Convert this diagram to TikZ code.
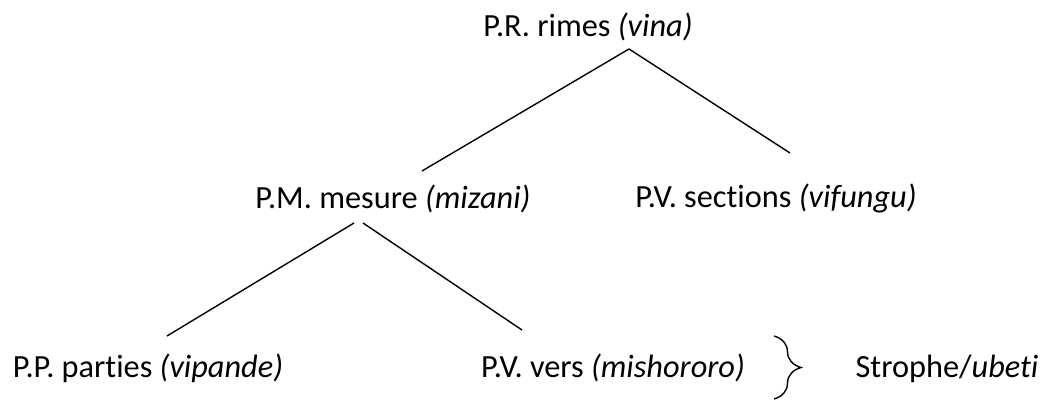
\documentclass[tikz,border=0pt]{standalone}
\usepackage{fontspec}
\setmainfont[Ligatures=NoCommon]{Carlito}
\usetikzlibrary{decorations.pathreplacing}
\tikzstyle{label} = [inner sep=0pt, anchor=base, font=\fontsize{18.4}{22}\selectfont]
\tikzstyle{branch} = [line width=0.8pt, black]

\begin{document}
\begin{tikzpicture}[x=0.02cm, y=-0.02cm]
    \useasboundingbox (0,0) rectangle (1045,401);
    \node (rimes) [label] at (588,37) {P.R. rimes \textit{(vina)}};
    \node (mesure) [label] at (393,209) {P.M. mesure \textit{(mizani)}};
    \node (sections) [label] at (776,208) {P.V. sections \textit{(vifungu)}};
    \node (parties) [label] at (148,378) {P.P. parties \textit{(vipande)}};
    \node (vers) [label] at (613,378) {P.V. vers \textit{(mishororo)}};
    \node (strophe) [label] at (947,378) {Strophe/\textit{ubeti}};

    % end points of the branches
    \coordinate (apexA) at (629,49);
    \coordinate (mesureA) at (422,171);
    \coordinate (sectionsA) at (790,153);
    \coordinate (apexBl) at (354,223);
    \coordinate (apexBr) at (363,223);
    \coordinate (partiesA) at (167,336);
    \coordinate (versA) at (522,330);
    \coordinate (braceTop) at (774,336);
    \coordinate (braceBot) at (774,399);

    \draw [branch] (apexA) -- (mesureA);
    \draw [branch] (apexA) -- (sectionsA);
    \draw [branch] (apexBl) -- (partiesA);
    \draw [branch] (apexBr) -- (versA);
    \draw [branch, decorate, decoration={brace, amplitude=0.54cm}] (braceTop) -- (braceBot);
\end{tikzpicture}
\end{document}
